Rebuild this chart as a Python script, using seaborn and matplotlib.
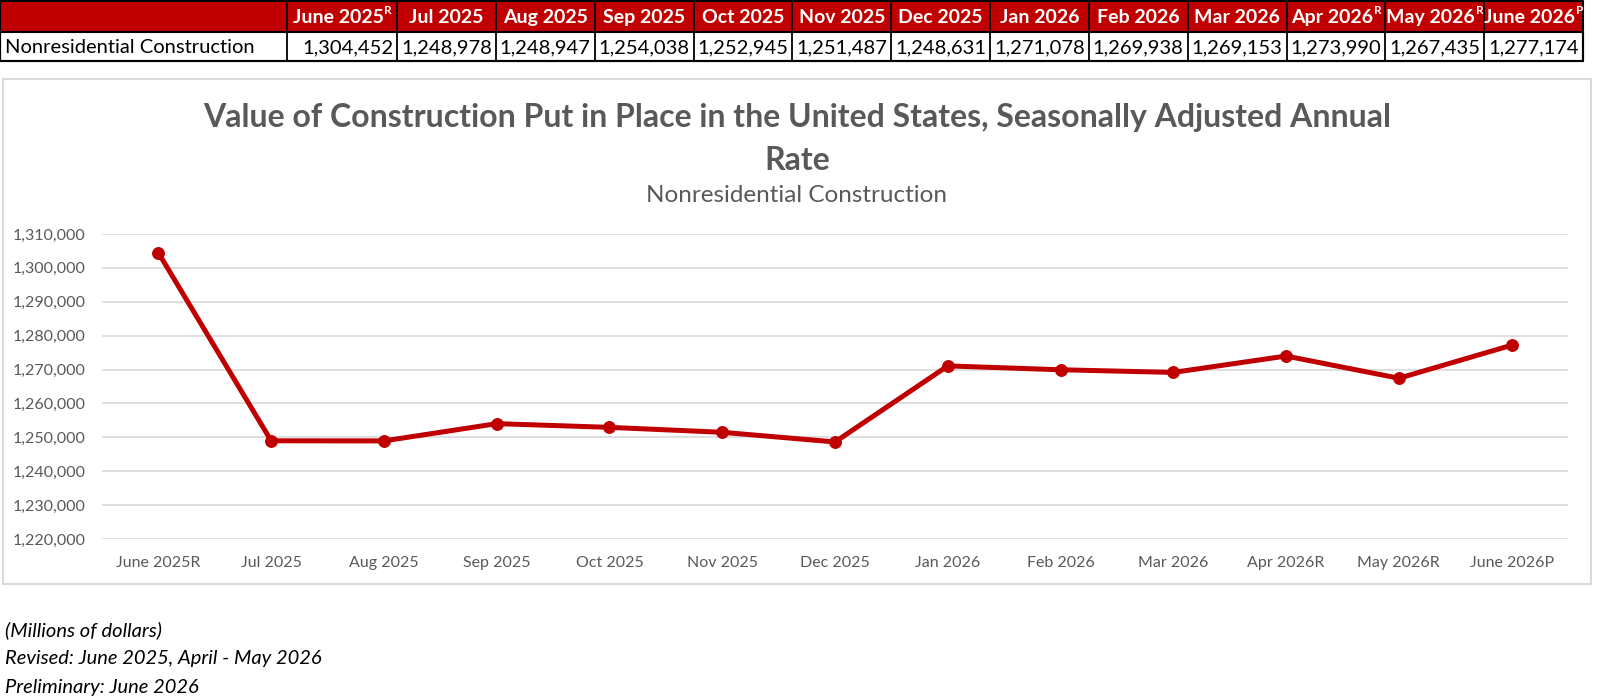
import matplotlib
matplotlib.use("Agg")
import matplotlib.pyplot as plt
from matplotlib.patches import Rectangle
from matplotlib.ticker import FuncFormatter, MultipleLocator
import seaborn as sns
import pandas as pd

# ---- data ----
months = ["June 2025", "Jul 2025", "Aug 2025", "Sep 2025", "Oct 2025", "Nov 2025",
          "Dec 2025", "Jan 2026", "Feb 2026", "Mar 2026", "Apr 2026", "May 2026", "June 2026"]
flags = ["R", "", "", "", "", "", "", "", "", "", "R", "R", "P"]
values = [1304452, 1248978, 1248947, 1254038, 1252945, 1251487, 1248631,
          1271078, 1269938, 1269153, 1273990, 1267435, 1277174]
series_name = "Nonresidential Construction"
title = "Value of Construction Put in Place in the United States, Seasonally Adjusted Annual\nRate"
subtitle = "Nonresidential Construction"
footnotes = ["(Millions of dollars)", "Revised: June 2025, April - May 2026", "Preliminary: June 2026"]
y_min, y_max, y_step = 1220000, 1310000, 10000

sns.set_theme(style="white")
plt.rcParams["font.family"] = ["Lato", "DejaVu Sans"]

W, H = 1600, 698
fig = plt.figure(figsize=(W / 100, H / 100), dpi=100)
RED = "#C00000"
GREY = "#595959"

def fx(px):
    return px / W

def fy(py):
    return 1 - py / H

# ---- table ----
tab = fig.add_axes([0, 0, 1, 1], zorder=0)
tab.set_xlim(0, W)
tab.set_ylim(H, 0)
tab.axis("off")
col_edges = [0, 287, 397]
for i in range(len(months) - 1):
    col_edges.append(397 + (1583 - 397) * (i + 1) / (len(months) - 1))
top, mid, bot = 1, 32, 61
tab.add_patch(Rectangle((0, top), 1583, mid - top, facecolor=RED, edgecolor="none"))
tab.add_patch(Rectangle((0, mid), 1583, bot - mid, facecolor="white", edgecolor="black", lw=1.5))
tab.plot([0, 1583, 1583, 0, 0], [top, top, bot, bot, top], color="black", lw=1.5)
for e in col_edges[1:-1]:
    tab.plot([e, e], [top, bot], color="black", lw=1.3)
tab.text(5, (mid + bot) / 2 + 1, series_name, ha="left", va="center", fontsize=14.5, color="black")
fig.canvas.draw()
renderer = fig.canvas.get_renderer()
for i, (m, f, v) in enumerate(zip(months, flags, values)):
    l, r = col_edges[i + 1], col_edges[i + 2]
    c = (l + r) / 2
    t = tab.text(c - (4 if f else 0), (top + mid) / 2 + 1, m, ha="center", va="center",
                 fontsize=14, fontweight="bold", color="white")
    if f:
        bb = t.get_window_extent(renderer=renderer)
        xr = tab.transData.inverted().transform((bb.x1, 0))[0]
        tab.text(xr + 1, 11, f, ha="left", va="center", fontsize=8.5,
                 fontweight="bold", color="white")
    tab.text(r - 4, (mid + bot) / 2 + 1, f"{v:,}", ha="right", va="center", fontsize=14.5, color="black")

# ---- chart box ----
tab.add_patch(Rectangle((3, 79), 1588, 505, facecolor="white", edgecolor="#D9D9D9", lw=1.5))
tab.text(797, 117, title.split("\n")[0], ha="center", va="center", fontsize=23,
         fontweight="bold", color=GREY)
tab.text(797, 160, title.split("\n")[1], ha="center", va="center", fontsize=23,
         fontweight="bold", color=GREY)
tab.text(797, 195, subtitle, ha="center", va="center", fontsize=17.5, color=GREY)

for k, line in enumerate(footnotes):
    tab.text(5, 630 + 28.5 * k, line, ha="left", va="center", fontsize=14.5,
             style="italic", color="black")

# ---- line chart ----
labels = [m + f for m, f in zip(months, flags)]
df = pd.DataFrame({"month": labels, "value": values})
ax = fig.add_axes([fx(102), fy(539), fx(1568 - 102), (539 - 234) / H], zorder=2)
ax.patch.set_alpha(0)
sns.lineplot(data=df, x="month", y="value", sort=False, ax=ax, color=RED, lw=3.6,
             marker="o", markersize=8.5, markeredgecolor=RED, markerfacecolor=RED)
ax.set_xlim(-0.5, len(labels) - 0.5)
ax.set_ylim(y_min, y_max)
ax.yaxis.set_major_locator(MultipleLocator(y_step))
ax.yaxis.set_major_formatter(FuncFormatter(lambda v, p: f"{int(v):,}"))
ax.grid(axis="y", color="#D9D9D9", lw=1.2)
ax.set_axisbelow(True)
for s in ax.spines.values():
    s.set_visible(False)
ax.set_xlabel("")
ax.set_ylabel("")
ax.tick_params(axis="x", length=0, pad=12, labelsize=11.5, labelcolor=GREY)
ax.tick_params(axis="y", length=0, pad=12, labelsize=11.5, labelcolor=GREY)

fig.savefig("out.png", dpi=100, facecolor="white")
